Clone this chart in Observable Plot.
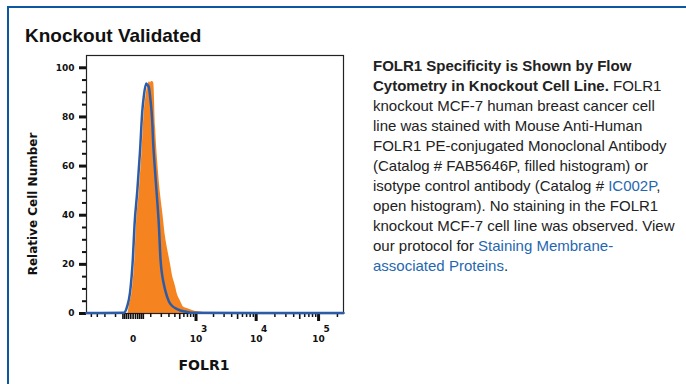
<!DOCTYPE html>
<html><head><meta charset="utf-8">
<script src="https://cdn.jsdelivr.net/npm/d3@7"></script>
<script src="https://cdn.jsdelivr.net/npm/@observablehq/plot@0.6"></script>
<style>
html,body{margin:0;padding:0;background:#fff;}
body{width:686px;height:384px;overflow:hidden;position:relative;font-family:"Liberation Sans",Arial,sans-serif;}
#box{position:absolute;left:7px;top:6px;width:720px;height:420px;border:2px solid #0b57a0;box-sizing:border-box;}
#title{position:absolute;left:25px;top:25.6px;font-size:19px;font-weight:bold;line-height:19px;color:#111;white-space:nowrap;}
#chart{position:absolute;left:0;top:0;}
#ylab{position:absolute;left:-67px;top:197px;width:200px;text-align:center;font-family:"DejaVu Sans",sans-serif;font-weight:bold;font-size:12px;line-height:14px;color:#111;transform:rotate(-90deg);transform-origin:50% 50%;white-space:nowrap;}
#xlab{position:absolute;left:154px;top:358px;width:100px;text-align:center;font-family:"DejaVu Sans",sans-serif;font-weight:bold;font-size:14px;line-height:14px;color:#111;}
#cap{position:absolute;left:373px;top:55.5px;font-size:15px;line-height:20px;color:#222;white-space:nowrap;}
#cap a{color:#1f67b1;text-decoration:none;}
</style></head>
<body>
<div id="box"></div>
<div id="title">Knockout Validated</div>
<div id="chart"></div>
<div id="ylab">Relative Cell Number</div>
<div id="xlab">FOLR1</div>
<div id="cap"><b>FOLR1 Specificity is Shown by Flow</b><br><b>Cytometry in Knockout Cell Line.</b> FOLR1<br>knockout MCF-7 human breast cancer cell<br>line was stained with Mouse Anti-Human<br>FOLR1 PE-conjugated Monoclonal Antibody<br>(Catalog # FAB5646P, filled histogram) or<br>isotype control antibody (Catalog # <a>IC002P</a>,<br>open histogram). No staining in the FOLR1<br>knockout MCF-7 cell line was observed. View<br>our protocol for <a>Staining Membrane-</a><br><a>associated Proteins</a>.</div>
<script>
// Isotype control (open histogram, blue line)
const isoX = [-500, -44.8, -26.6, -13.3, -1.2, 5.8, 18.3, 31.7, 43.7, 53.0, 68.0, 76.7, 85.8, 98.5, 111.9, 120.2, 131.5, 156.6, 172.8, 191, 229.8, 251.7, 298.3, 324.6, 445.9, 692.7, 796.2, 250000];
const isoY = [0.2, 0.3, 3.0, 8.5, 22, 36, 50, 66, 82, 88.5, 93.6, 93.0, 92.1, 86.7, 78.4, 69.1, 60.9, 46, 36.4, 22, 12, 9, 5, 3.8, 1.8, 0.6, 0.3, 0.2];
// FOLR1 antibody (filled histogram, orange)
const koX = [-22.7, -17.0, -4.5, 7.1, 14.6, 28.1, 42.5, 55.4, 65.4, 80.2, 90.9, 98.5, 106.3, 120.2, 125.3, 140.5, 162.6, 191, 220, 251.7, 275, 324.6, 352.6, 412.3, 445.9, 517.7, 598.5, 692.7, 913, 1283, 1564];
const koY = [0, 3, 8.5, 22, 36.4, 50, 66, 82, 88, 93, 94.3, 93.8, 94.4, 94.2, 93.5, 76, 61, 48.5, 40, 31, 27, 20, 16, 11, 8, 5, 2.5, 2, 1.0, 0.5, 0];

// Axis ticks
const yMajor = [0, 20, 40, 60, 80, 100];
const yMinor = [5, 10, 15, 25, 30, 35, 45, 50, 55, 65, 70, 75, 85, 90, 95];
const xLabelTicks = [0, 1000, 10000, 100000];
const xLabelText = ["0", "10", "10", "10"];
const xExpTicks = [1000, 10000, 100000];
const xExpText = ["3", "4", "5"];
const xMajor = [1000, 10000, 100000];
const xMid = [500, 5000, 50000];
const xMinor = [-400, -300, -200, -100, 100, 200, 300, 400, 600, 700, 800, 900, 2000, 3000, 4000, 6000, 7000, 8000, 9000, 20000, 30000, 40000, 60000, 70000, 80000, 90000, 200000];
const xCluster = [-50, -40, -30, -20, -10, 0, 10, 20, 30, 40, 50];

const iso = isoX.map((x, i) => ({x, y: isoY[i]}));
const ko = koX.map((x, i) => ({x, y: koY[i]}));

const plot = Plot.plot({
  width: 360, height: 384,
  marginLeft: 86, marginRight: 17, marginTop: 55, marginBottom: 71,
  style: {fontFamily: "DejaVu Sans", fontWeight: "bold", fontSize: "9px", color: "#111", background: "transparent"},
  x: {type: "symlog", constant: 110, domain: [-500, 250000], label: null},
  y: {domain: [0, 105], label: null},
  marks: [
    Plot.areaY(ko, {x: "x", y: "y", fill: "#f58420", curve: "monotone-x"}),
    Plot.frame({stroke: "#222", strokeWidth: 1.2}),
    Plot.axisY(yMinor, {tickSize: 4, strokeWidth: 2, fill: "none", label: null}),
    Plot.axisY(yMajor, {tickSize: 7, strokeWidth: 3, tickPadding: 5, label: null}),
    Plot.axisX(xMinor, {tickSize: 4, strokeWidth: 1.5, fill: "none", label: null}),
    Plot.axisX(xCluster, {tickSize: 6, strokeWidth: 1.6, fill: "none", label: null}),
    Plot.axisX(xMid, {tickSize: 6, strokeWidth: 1.6, fill: "none", label: null}),
    Plot.axisX(xMajor, {tickSize: 8, strokeWidth: 3, fill: "none", label: null}),
    Plot.axisX(xLabelTicks, {tickSize: 0, tickPadding: 22, tickFormat: (d, i) => xLabelText[xLabelTicks.indexOf(d)], label: null}),
    Plot.text(xExpTicks, {x: d => d, text: (d, i) => xExpText[i], frameAnchor: "bottom", dy: 18.5, dx: 8}),
    Plot.line(iso, {x: "x", y: "y", stroke: "#2c5ca8", strokeWidth: 2.5, curve: "monotone-x"})
  ]
});
document.getElementById("chart").appendChild(plot);
</script>
</body></html>
